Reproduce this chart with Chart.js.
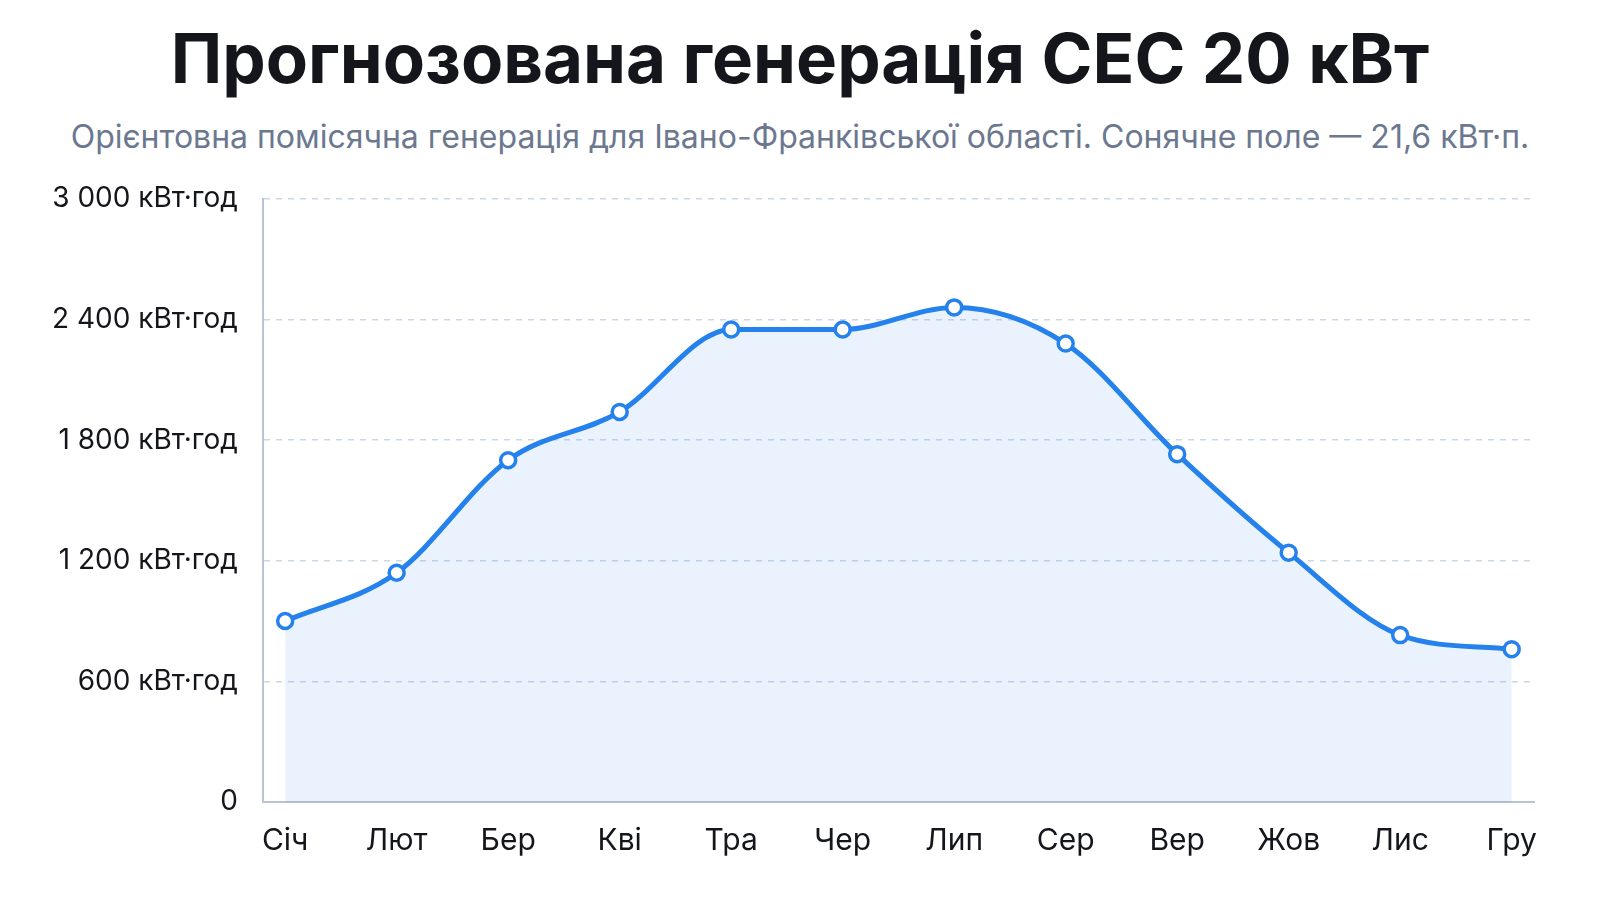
<!DOCTYPE html>
<html lang="uk">
<head>
<meta charset="utf-8">
<script src="https://cdn.jsdelivr.net/npm/chart.js@4/dist/chart.umd.min.js"></script>
<style>
	html, body { margin: 0; padding: 0; background: #fff; }
	body { width: 1600px; height: 900px; overflow: hidden; font-family: "Inter", sans-serif; }
	h1 { margin: 0; position: absolute; top: 16px; left: 0; width: 1600px; text-align: center;
		font-size: 69px; font-weight: 700; color: #14161b; }
	.sub { position: absolute; top: 117px; left: 0; width: 1600px; text-align: center;
		font-size: 32px; color: #6b7890; }
	#wrap { position: absolute; left: 0; top: 157px; width: 1600px; height: 715px; }
</style>
</head>
<body>
<h1>Прогнозована генерація СЕС 20 кВт</h1>
<div class="sub">Орієнтовна помісячна генерація для Івано-Франківської області. Сонячне поле — 21,6 кВт·п.</div>
<div id="wrap"><canvas id="genChart"></canvas></div>
<script>
// місяці
const months = ['Січ', 'Лют', 'Бер', 'Кві', 'Тра', 'Чер', 'Лип', 'Сер', 'Вер', 'Жов', 'Лис', 'Гру'];
// генерація, кВт·год
const generation = [900, 1140, 1700, 1940, 2350, 2350, 2460, 2280, 1730, 1240, 830, 760];
const yTicks = [0, 600, 1200, 1800, 2400, 3000];

const points = generation.map((v, i) => ({ x: i, y: v }));

function fmt(v) {
	if (v === 0) return '0';
	return String(v).replace(/\B(?=(\d{3})+(?!\d))/g, ' ') + ' кВт·год';
}

const ctx = document.getElementById('genChart').getContext('2d');
new Chart(ctx, {
	type: 'line',
	data: {
		datasets: [{
			data: points,
			borderColor: '#2581ec',
			borderWidth: 5,
			backgroundColor: 'rgba(37,129,236,0.10)',
			fill: 'origin',
			cubicInterpolationMode: 'monotone',
			pointRadius: 7.5,
			pointBorderWidth: 3.5,
			pointBackgroundColor: '#ffffff',
			pointBorderColor: '#2581ec'
		}]
	},
	options: {
		responsive: true,
		maintainAspectRatio: false,
		animation: false,
		layout: { padding: { left: 27, right: 66, top: 8, bottom: 0 } },
		plugins: { legend: { display: false }, tooltip: { enabled: false } },
		scales: {
			x: {
				type: 'linear',
				min: -0.2,
				max: 11.2,
				grid: { display: false },
				border: { color: '#b9c3d3', width: 2 },
				afterBuildTicks: (axis) => { axis.ticks = months.map((m, i) => ({ value: i })); },
				ticks: {
					color: '#14161b',
					font: { family: 'Inter', size: 30 },
					padding: 13,
					maxRotation: 0,
					callback: (v) => months[v]
				}
			},
			y: {
				min: 0,
				max: 3000,
				afterBuildTicks: (axis) => { axis.ticks = yTicks.map(v => ({ value: v })); },
				grid: { color: '#cbd7e9', lineWidth: 1.5, drawTicks: false },
				border: { color: '#b9c3d3', width: 2, dash: [6, 6] },
				ticks: {
					color: '#14161b',
					font: { family: 'Inter', size: 28 },
					padding: 25,
					callback: (v) => fmt(v)
				}
			}
		}
	}
});
</script>
</body>
</html>
